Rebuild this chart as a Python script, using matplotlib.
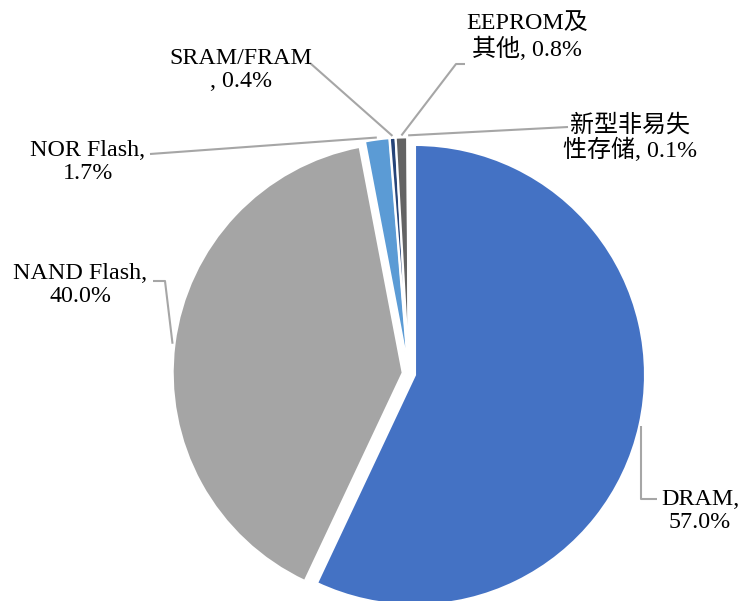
import numpy as np
import matplotlib
matplotlib.use("Agg")
import matplotlib.pyplot as plt

W, H = 739, 601

# data
names = ["DRAM", "NAND Flash", "NOR Flash", "SRAM/FRAM", "EEPROM及其他", "新型非易失性存储"]
shares = [57.0, 40.0, 1.7, 0.4, 0.8, 0.1]
label_fmt = ["DRAM,\n{:.1f}%", "NAND Flash,\n{:.1f}%", "NOR Flash,\n{:.1f}%",
             "SRAM/FRAM\n, {:.1f}%", "EEPROM及\n其他, {:.1f}%", "新型非易失\n性存储, {:.1f}%"]
colors = ["#4472C4", "#A5A5A5", "#5B9BD5", "#264478", "#636363", "#997300"]

# label centres and leader-line elbows, in image pixels (y down)
label_pos = [(700, 511), (80, 285), (88, 162), (241, 70), (527, 37), (630, 138)]
leader_pts = [[(657, 499), None], [(153, 281), (165, 281)], [(150, 154)],
              [(310, 63)], [(465, 64), (456, 64)], [(568, 127)]]


def img(x, y):
    return x, H - y


fig = plt.figure(figsize=(W / 100, H / 100), dpi=100)
ax = fig.add_axes([0, 0, 1, 1])

# explode is in data units here (pixels), not a fraction of the radius
wedges, _ = ax.pie(shares, colors=colors, startangle=90, counterclock=False,
                   explode=[6.25] * len(shares), radius=230,
                   center=img(408.9, 373.6),
                   wedgeprops=dict(edgecolor="white", linewidth=1.5))

fonts = ["Liberation Serif", "Noto Sans CJK SC"]
for i, w in enumerate(wedges):
    mid = np.deg2rad((w.theta1 + w.theta2) / 2)
    ax_x = w.center[0] + (w.r + 2) * np.cos(mid)
    ax_y = w.center[1] + (w.r + 2) * np.sin(mid)
    pts = []
    for p in leader_pts[i]:
        if p is None:
            # vertical drop from the anchor to the previous point's height
            pts.append((ax_x, pts[-1][1]))
        else:
            pts.append(img(*p))
    pts.append((ax_x, ax_y))
    xs, ys = zip(*pts)
    ax.plot(xs, ys, color="#A6A6A6", lw=1.5, solid_capstyle="butt")
    tx, ty = img(*label_pos[i])
    ax.text(tx, ty, label_fmt[i].format(shares[i]), ha="center", va="center",
            multialignment="center", fontsize=17.3, family=fonts,
            color="#000000", linespacing=1.1)

ax.set_xlim(0, W)
ax.set_ylim(0, H)
ax.set_aspect("equal")
ax.axis("off")

fig.savefig("out.png", dpi=100, facecolor="white")
